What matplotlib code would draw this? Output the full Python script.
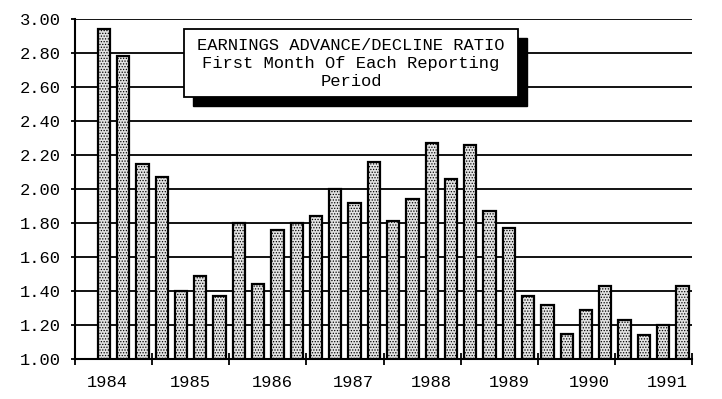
import matplotlib
matplotlib.use("Agg")
import matplotlib.pyplot as plt
from matplotlib.patches import Rectangle
import matplotlib.transforms as mtransforms

# ---- data ----
ratios = [2.94, 2.78, 2.15, 2.07,
          1.40, 1.49, 1.37, 1.80,
          1.44, 1.76, 1.80, 1.84,
          2.00, 1.92, 2.16, 1.81,
          1.94, 2.27, 2.06, 2.26,
          1.87, 1.77, 1.37, 1.32,
          1.15, 1.29, 1.43, 1.23,
          1.14, 1.20, 1.43]
years = ["1984", "1985", "1986", "1987", "1988", "1989", "1990", "1991"]
yticks = [1.00, 1.20, 1.40, 1.60, 1.80, 2.00, 2.20, 2.40, 2.60, 2.80, 3.00]
title_lines = ["EARNINGS ADVANCE/DECLINE RATIO",
               "First Month Of Each Reporting",
               "Period"]

FONT = "Liberation Mono"
FS = 12.3

W, H = 722, 399
fig = plt.figure(figsize=(W / 100, H / 100), dpi=100)
fig.patch.set_facecolor("white")
ax = fig.add_axes([75 / W, 1 - 359.3 / H, (692 - 75) / W, (359.3 - 19) / H])

plt.rcParams["hatch.color"] = "#4a4a4a"
plt.rcParams["hatch.linewidth"] = 0.6

xpos = [i + 1.5 for i in range(len(ratios))]
heights = [v - 1.0 for v in ratios]
ax.bar(xpos, heights, bottom=1.0, width=0.64, facecolor="#e4e4e4",
       edgecolor="black", linewidth=1.6, hatch="......", zorder=3)

ax.set_xlim(0, 32)
ax.set_ylim(1.0, 3.0)
ax.set_yticks(yticks)
ax.set_yticklabels([f"{t:.2f}" for t in yticks], fontfamily=FONT, fontsize=FS)
ax.grid(axis="y", color="black", linewidth=1.3, zorder=1)
ax.set_axisbelow(True)

ax.set_xticks(range(0, 33, 4))
ax.set_xticklabels([])
ax.tick_params(axis="x", which="major", direction="inout", length=8, width=1.3)
label_pos = [1.66, 5.96, 10.26, 14.41, 18.5, 22.55, 26.7, 30.74]
ax.set_xticks(label_pos, minor=True)
ax.set_xticklabels(years, minor=True, fontfamily=FONT, fontsize=FS)
ax.tick_params(axis="x", which="minor", length=0, pad=11)
ax.tick_params(axis="y", direction="out", length=3, width=1.3, pad=7)

for s in ["top", "right"]:
    ax.spines[s].set_visible(False)
for s in ["left", "bottom"]:
    ax.spines[s].set_linewidth(1.5)

# ---- title box with shadow ----
bx0, by0, bx1, by1 = 184, 29, 518, 97
off = 9
shadow = Rectangle((( bx0 + off) / W, 1 - (by1 + off) / H), (bx1 - bx0) / W, (by1 - by0) / H,
                   transform=fig.transFigure, facecolor="black", edgecolor="black", zorder=10)
box = Rectangle((bx0 / W, 1 - by1 / H), (bx1 - bx0) / W, (by1 - by0) / H,
                transform=fig.transFigure, facecolor="white", edgecolor="black",
                linewidth=1.3, zorder=11)
fig.patches.extend([shadow, box])
cx = (bx0 + bx1) / 2
for line, yc in zip(title_lines, [46, 63.5, 81.5]):
    fig.text(cx / W, 1 - yc / H, line, ha="center", va="center",
             fontfamily=FONT, fontsize=FS, zorder=12)

fig.savefig("out.png", dpi=100)
